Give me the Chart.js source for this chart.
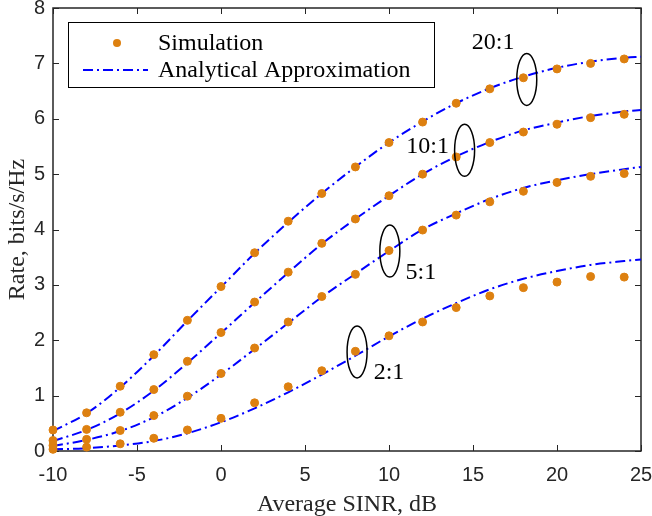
<!DOCTYPE html>
<html>
<head>
<meta charset="utf-8">
<script src="https://cdn.jsdelivr.net/npm/chart.js@4/dist/chart.umd.min.js"></script>
<style>
  html, body { margin: 0; padding: 0; background: #fff; }
  #wrap { width: 652px; height: 516px; }
</style>
</head>
<body>
<div id="wrap"><canvas id="rateChart" width="652" height="516"></canvas></div>
<script>
// SINR values (dB)
const simX = [-10, -8, -6, -4, -2, 0, 2, 4, 6, 8, 10, 12, 14, 16, 18, 20, 22, 24];
const lineX = [-10, -8, -6, -4, -2, 0, 2, 4, 6, 8, 10, 12, 14, 16, 18, 20, 22, 24, 25];

// simulation points
const sim20 = [0.38, 0.69, 1.17, 1.74, 2.36, 2.97, 3.58, 4.15, 4.65, 5.13, 5.57, 5.94, 6.28, 6.54, 6.74, 6.90, 7.00, 7.08];
const sim10 = [0.19, 0.39, 0.70, 1.11, 1.62, 2.14, 2.69, 3.23, 3.75, 4.19, 4.61, 5.00, 5.31, 5.57, 5.76, 5.90, 6.02, 6.08];
const sim5 = [0.10, 0.21, 0.37, 0.64, 0.99, 1.40, 1.86, 2.33, 2.79, 3.19, 3.62, 3.99, 4.26, 4.50, 4.69, 4.85, 4.96, 5.01];
const sim2 = [0.03, 0.07, 0.13, 0.23, 0.38, 0.59, 0.87, 1.16, 1.45, 1.80, 2.08, 2.33, 2.59, 2.80, 2.95, 3.05, 3.15, 3.14];

// analytical approximation
const ana20 = [0.36, 0.68, 1.15, 1.72, 2.35, 2.96, 3.57, 4.13, 4.65, 5.13, 5.57, 5.95, 6.28, 6.55, 6.76, 6.92, 7.03, 7.10, 7.12];
const ana10 = [0.18, 0.38, 0.68, 1.09, 1.59, 2.13, 2.68, 3.22, 3.74, 4.19, 4.61, 5.00, 5.32, 5.58, 5.79, 5.93, 6.05, 6.13, 6.16];
const ana5 = [0.09, 0.20, 0.36, 0.61, 0.96, 1.38, 1.84, 2.31, 2.78, 3.20, 3.61, 4.00, 4.29, 4.55, 4.75, 4.89, 5.00, 5.09, 5.13];
const ana2 = [0.03, 0.05, 0.10, 0.18, 0.32, 0.52, 0.77, 1.06, 1.38, 1.72, 2.07, 2.39, 2.67, 2.92, 3.11, 3.25, 3.36, 3.43, 3.46];

const xTicks = [-10, -5, 0, 5, 10, 15, 20, 25];
const yTicks = [0, 1, 2, 3, 4, 5, 6, 7, 8];

// ratio labels and their ellipses (data coords)
const ratioLabels = ['20:1', '10:1', '5:1', '2:1'];
const labelX = [16.2, 12.3, 11.9, 10.0];
const labelY = [7.38, 5.49, 3.22, 1.41];
const ellipseX = [18.2, 14.5, 10.05, 8.1];
const ellipseY = [6.71, 5.43, 3.61, 1.79];

const orange = '#DD8010';
const blue = '#0000FF';
const dash = [10, 4, 2, 4];

function pts(xs, ys) {
    return xs.map((x, i) => ({ x: x, y: ys[i] }));
}

const datasets = [];
[ana20, ana10, ana5, ana2].forEach(function (d) {
    datasets.push({
        type: 'line',
        data: pts(lineX, d),
        borderColor: blue,
        borderWidth: 2,
        borderDash: dash,
        pointRadius: 0,
        fill: false,
        cubicInterpolationMode: 'monotone',
        clip: false,
        order: 2
    });
});
[sim20, sim10, sim5, sim2].forEach(function (d) {
    datasets.push({
        type: 'scatter',
        data: pts(simX, d),
        backgroundColor: orange,
        borderColor: orange,
        pointRadius: 4,
        pointHoverRadius: 4,
        showLine: false,
        clip: false,
        order: 1
    });
});

const frameAndNotes = {
    id: 'frameAndNotes',
    beforeDatasetsDraw(chart) {
        const { ctx, chartArea: a, scales: { x, y } } = chart;
        ctx.save();
        ctx.strokeStyle = '#262626';
        ctx.lineWidth = 1.5;
        ctx.strokeRect(a.left, a.top, a.right - a.left, a.bottom - a.top);
        ctx.lineWidth = 1;
        ctx.beginPath();
        xTicks.forEach(function (v) {
            const px = Math.round(x.getPixelForValue(v)) + 0.5;
            ctx.moveTo(px, a.bottom); ctx.lineTo(px, a.bottom - 6);
            ctx.moveTo(px, a.top); ctx.lineTo(px, a.top + 6);
        });
        yTicks.forEach(function (v) {
            const py = Math.round(y.getPixelForValue(v)) + 0.5;
            ctx.moveTo(a.left, py); ctx.lineTo(a.left + 6, py);
            ctx.moveTo(a.right, py); ctx.lineTo(a.right - 6, py);
        });
        ctx.stroke();
        ctx.restore();
    },
    afterDatasetsDraw(chart) {
        const { ctx, chartArea: a, scales: { x, y } } = chart;
        ctx.save();
        // ellipses + ratio labels
        ctx.strokeStyle = '#000';
        ctx.lineWidth = 1.5;
        ellipseX.forEach(function (v, i) {
            ctx.beginPath();
            ctx.ellipse(x.getPixelForValue(v), y.getPixelForValue(ellipseY[i]), 10, 26, 0, 0, Math.PI * 2);
            ctx.stroke();
        });
        ctx.fillStyle = '#000';
        ctx.font = '24px "Liberation Serif", "Times New Roman", serif';
        ctx.textAlign = 'center';
        ctx.textBaseline = 'middle';
        ratioLabels.forEach(function (t, i) {
            ctx.fillText(t, x.getPixelForValue(labelX[i]), y.getPixelForValue(labelY[i]));
        });

        // legend box
        const lx = a.left + 15, ly = a.top + 14;
        ctx.fillStyle = '#fff';
        ctx.fillRect(lx, ly, 366, 65);
        ctx.strokeStyle = '#000';
        ctx.lineWidth = 1;
        ctx.strokeRect(lx + 0.5, ly + 0.5, 366, 65);
        ctx.fillStyle = orange;
        ctx.beginPath();
        ctx.arc(lx + 49, ly + 21, 4, 0, Math.PI * 2);
        ctx.fill();
        ctx.strokeStyle = blue;
        ctx.lineWidth = 2;
        ctx.setLineDash(dash);
        ctx.beginPath();
        ctx.moveTo(lx + 15, ly + 48);
        ctx.lineTo(lx + 80, ly + 48);
        ctx.stroke();
        ctx.setLineDash([]);
        ctx.fillStyle = '#000';
        ctx.textAlign = 'left';
        ctx.fillText('Simulation', lx + 90, ly + 22);
        ctx.fillText('Analytical Approximation', lx + 90, ly + 49);
        ctx.restore();
    }
};

const ctx = document.getElementById('rateChart').getContext('2d');
new Chart(ctx, {
    data: { datasets: datasets },
    options: {
        responsive: false,
        animation: false,
        layout: { padding: { top: 8, right: 11, left: 0, bottom: 0 } },
        plugins: {
            legend: { display: false },
            tooltip: { enabled: false }
        },
        scales: {
            x: {
                type: 'linear',
                min: -10,
                max: 25,
                afterBuildTicks: function (s) { s.ticks = xTicks.map(v => ({ value: v })); },
                afterFit: function (s) {
                    s.height = 65;
                    s.paddingLeft = 0;
                    s.paddingRight = 0;
                },
                grid: { display: false, drawTicks: false },
                border: { display: false },
                ticks: {
                    padding: 12,
                    color: '#262626',
                    maxRotation: 0,
                    font: { family: '"Liberation Sans", Arial, sans-serif', size: 20 }
                },
                title: {
                    display: true,
                    text: 'Average SINR, dB',
                    color: '#262626',
                    padding: { top: 0, bottom: -3 },
                    font: { family: '"Liberation Serif", "Times New Roman", serif', size: 24 }
                }
            },
            y: {
                type: 'linear',
                min: 0,
                max: 8,
                afterBuildTicks: function (s) { s.ticks = yTicks.map(v => ({ value: v })); },
                afterFit: function (s) {
                    s.width = 53;
                    s.paddingTop = 0;
                    s.paddingBottom = 0;
                },
                grid: { display: false, drawTicks: false },
                border: { display: false },
                ticks: {
                    padding: 8,
                    color: '#262626',
                    font: { family: '"Liberation Sans", Arial, sans-serif', size: 20 }
                },
                title: {
                    display: true,
                    text: 'Rate, bits/s/Hz',
                    color: '#262626',
                    padding: { top: 3, bottom: 0 },
                    font: { family: '"Liberation Serif", "Times New Roman", serif', size: 24 }
                }
            }
        }
    },
    plugins: [frameAndNotes]
});
</script>
</body>
</html>
